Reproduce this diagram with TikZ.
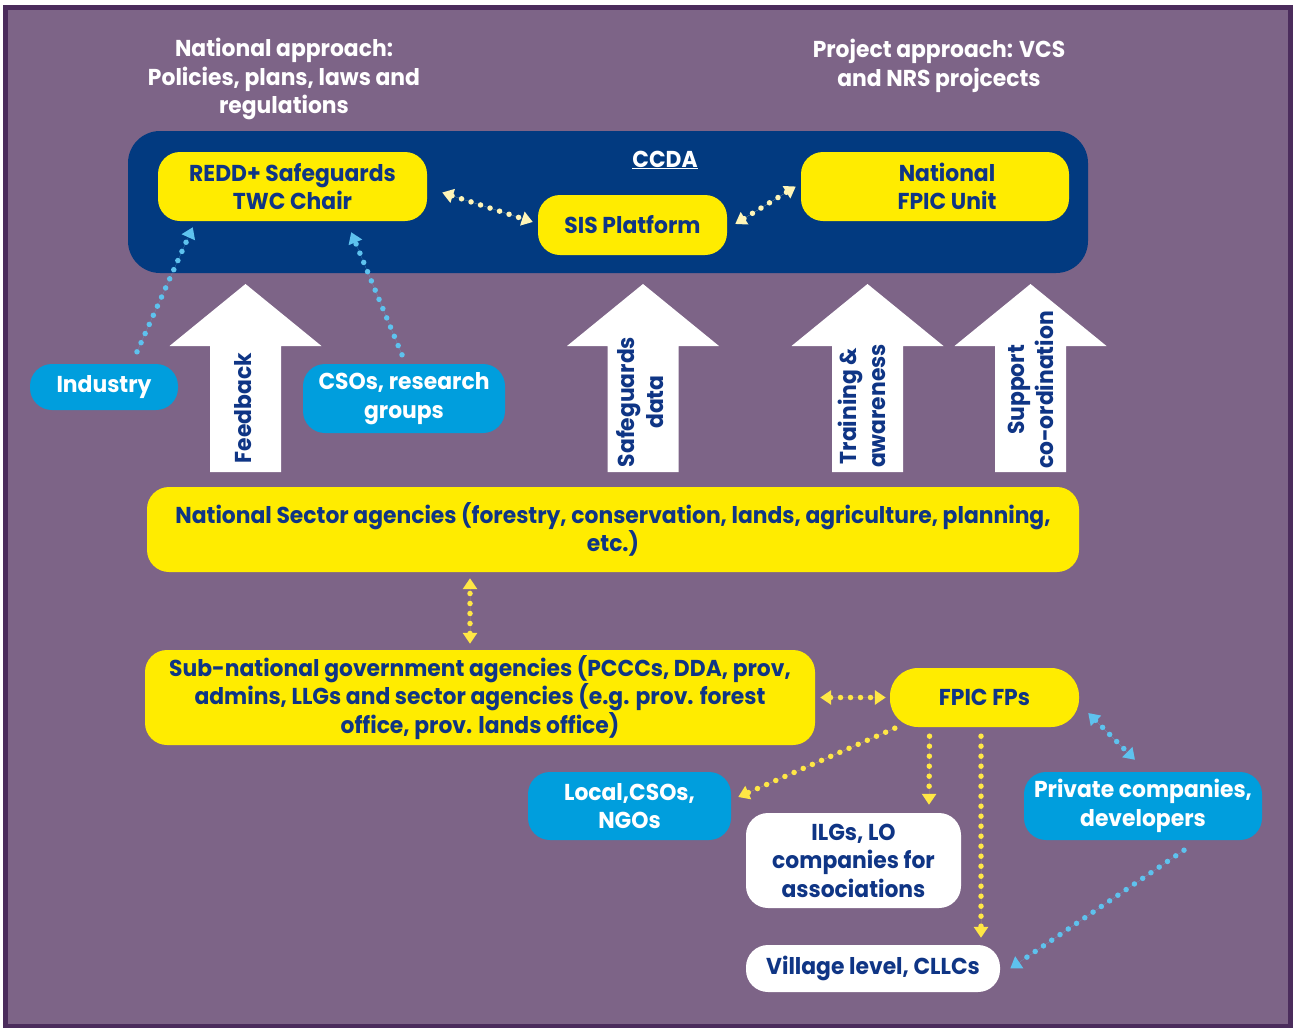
\documentclass[tikz,border=0pt]{standalone}
\usepackage{fontspec}
\setmainfont{Poppins}[FakeStretch=0.95]
\usetikzlibrary{arrows.meta, positioning, calc}
\definecolor{bgPurple}{HTML}{7D6487}
\definecolor{frameDark}{HTML}{4B2C5C}
\definecolor{ccdaBlue}{HTML}{023A80}
\definecolor{boxYellow}{HTML}{FFEC00}
\definecolor{textNavy}{HTML}{0F3585}
\definecolor{cyanBox}{HTML}{009EDD}
\definecolor{dotCyan}{HTML}{5EC2EE}
\definecolor{dotPale}{HTML}{FFF5B8}
\definecolor{dotYellow}{HTML}{FFE745}

\begin{document}
\begin{tikzpicture}[x=1pt, y=-1pt,
    >={Triangle[width=14pt,length=11pt]},
    txt/.style={font=\fontsize{23}{28.5}\selectfont\bfseries, align=center},
    box/.style={txt, rectangle, rounded corners=22pt, inner sep=0pt},
    yellowb/.style={box, fill=boxYellow, text=textNavy},
    cyanb/.style={box, fill=cyanBox, text=white},
    whiteb/.style={box, fill=white, text=textNavy},
    dots/.style={line width=5.5pt, line cap=round, dash pattern=on 0pt off 10pt},
    ydots/.style={dots, draw=dotYellow, fill=dotYellow},
    pdots/.style={dots, draw=dotPale, fill=dotPale},
    cdots/.style={dots, draw=dotCyan, fill=dotCyan},
    uptext/.style={txt, text=textNavy, rotate=90, font=\fontsize{23}{29.5}\selectfont\bfseries},
  ]
    \useasboundingbox (0,0) rectangle (1294,1028);
    \fill[white] (0,0) rectangle (1294,1028);
    \draw[frameDark, line width=5pt, fill=bgPurple] (5.5,7.5) rectangle (1290.5,1026);

    % ─── headings ───
    \node[txt, text=white] (natapp) at (284,79)
      {National approach:\\Policies, plans, laws and\\regulations};
    \node[txt, text=white] (projapp) at (939,66)
      {Project approach: VCS\\and NRS projcects};

    % ─── CCDA ───
    \node[box, fill=ccdaBlue, rounded corners=32pt, minimum width=960pt,
          minimum height=142pt] (ccda) at (608,202) {};
    \node[txt, text=white] (ccdalbl) at (665,160) {\underline{CCDA}};
    \node[yellowb, minimum width=269pt, minimum height=69pt] (redd) at (292.5,186.5)
      {REDD+ Safeguards\\TWC Chair};
    \node[yellowb, minimum width=189pt, minimum height=60pt] (sis) at (632.5,225)
      {SIS Platform};
    \node[yellowb, minimum width=268pt, minimum height=69pt] (fpicu) at (935,186.5)
      {\hspace*{24pt}National\\\hspace*{24pt}FPIC Unit};
    \draw[pdots, <->] ($(redd.east)+(15,6)$) -- ($(sis.west)+(-5,-3)$);
    \draw[pdots, <->] ($(sis.east)+(8,-1)$) -- ($(fpicu.west)+(-5,0)$);

    % ─── big arrows ───
    \foreach \x in {245.5,643,867.5,1030.5}{
      \fill[white] (\x-35.5,472) -- (\x-35.5,346) -- (\x-76,346) -- (\x,284)
        -- (\x+76,346) -- (\x+35.5,346) -- (\x+35.5,472) -- cycle;
    }
    \node[uptext] (feedback) at (243,408) {Feedback};
    \node[uptext] (sgdata) at (640,402) {Safeguards\\data};
    \node[uptext] (training) at (862,406) {Training \&\\awareness};
    \node[uptext] (support) at (1031,390) {Support\\co-ordination};

    % ─── side groups ───
    \node[cyanb, minimum width=148pt, minimum height=46pt] (industry) at (104,387) {Industry};
    \node[cyanb, minimum width=202pt, minimum height=69pt] (csos) at (404,398.5)
      {CSOs, research\\groups};
    \draw[cdots, ->] ($(industry.north)+(33,-12)$) -- ($(redd.south west)+(35,6)$);
    \draw[cdots, ->] ($(csos.north)+(-2,-9)$) -- ($(redd.south east)+(-76,11)$);

    % ─── national / sub-national ───
    \node[yellowb, minimum width=932pt, minimum height=85pt] (nat) at (613,529.5)
      {National Sector agencies (forestry, conservation, lands, agriculture, planning,\\etc.)};
    \node[yellowb, minimum width=670pt, minimum height=95pt] (sub) at (480,697.5)
      {Sub-national government agencies (PCCCs, DDA, prov,\\admins, LLGs and sector agencies (e.g. prov. forest\\office, prov. lands office)};
    \draw[ydots, <->] ([xshift=-10pt,yshift=6pt]sub.north) -- ([xshift=-10pt,yshift=-6pt]sub.north |- nat.south);

    % ─── FPIC focal points ───
    \node[yellowb, minimum width=189pt, minimum height=59pt, rounded corners=28pt] (fpic) at (984.5,697.5)
      {FPIC FPs};
    \draw[ydots, <->] ($(sub.east)+(5,0)$) -- ($(fpic.west)+(-4,0)$);

    \node[cyanb, minimum width=203pt, minimum height=68pt] (local) at (629.5,806)
      {Local,CSOs,\\NGOs};
    \node[whiteb, minimum width=215pt, minimum height=95pt] (ilgs) at (853.5,860.5)
      {ILGs, LO\\companies for\\associations};
    \node[cyanb, minimum width=238pt, minimum height=68pt] (private) at (1143,806)
      {Private companies,\\developers};
    \node[whiteb, minimum width=254pt, minimum height=47pt] (village) at (873,968.5)
      {Village level, CLLCs};

    \draw[ydots, ->] ($(fpic.south west)+(5,1)$) -- ($(local.east)+(7,-9)$);
    \draw[ydots, ->] ($(fpic.south)+(-55,9)$) -- ($(ilgs.north)+(75.5,-8)$);
    \draw[ydots, ->] ($(fpic.south)+(-3.5,9)$) -- ($(village.north)+(108,-7)$);
    \draw[cdots, <->] ($(fpic.east)+(9,15.5)$) -- ($(private.north)+(-8,-12)$);
    \draw[cdots, ->] ($(private.south)+(41,10)$) -- ($(village.east)+(10,0)$);
  \end{tikzpicture}
\end{document}
